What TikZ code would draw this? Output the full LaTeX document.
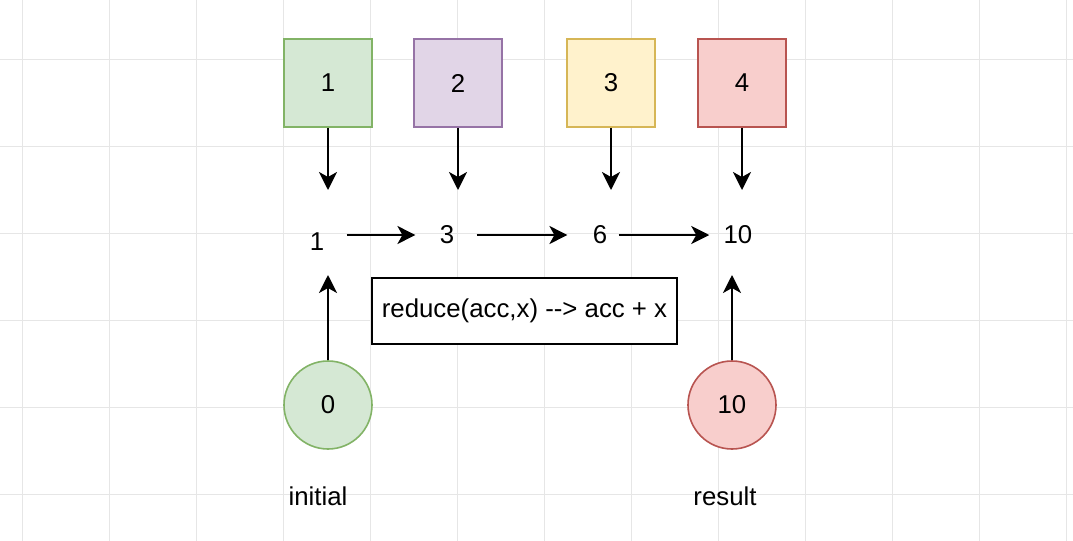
\documentclass[tikz,border=0pt]{standalone}
\usepackage{fontspec}
\setmainfont{Liberation Sans}
\usetikzlibrary{arrows.meta}
\definecolor{gfill}{HTML}{D5E8D4}\definecolor{gdraw}{HTML}{82B366}
\definecolor{pfill}{HTML}{E1D5E7}\definecolor{pdraw}{HTML}{9673A6}
\definecolor{yfill}{HTML}{FFF2CC}\definecolor{ydraw}{HTML}{D6B656}
\definecolor{rfill}{HTML}{F8CECC}\definecolor{rdraw}{HTML}{B85450}
\definecolor{gridc}{HTML}{E6E6E6}
\begin{document}
\begin{tikzpicture}[x=0.5pt,y=-0.5pt,
  every node/.style={font=\fontsize{12.9}{15}\selectfont},
  sq/.style={draw, line width=0.8pt, minimum size=44pt, inner sep=0pt},
  circ/.style={circle, draw, line width=0.8pt, minimum size=44pt, inner sep=0pt},
  val/.style={inner sep=0pt},
  arr/.style={line width=1pt, -{Stealth[length=9pt,width=9pt,inset=2.5pt]}},
  lbl/.style={inner sep=0pt}]
\useasboundingbox (0,0) rectangle (1073,541);
\fill[white] (0,0) rectangle (1073,541);
% grid
\foreach \x in {22,109,...,1073} \draw[gridc, line width=0.5pt] (\x,0) -- (\x,541);
\foreach \y in {59,146,...,541} \draw[gridc, line width=0.5pt] (0,\y) -- (1073,\y);
% squares
\node[sq, fill=gfill, draw=gdraw] (s1) at (328,83) {1};
\node[sq, fill=pfill, draw=pdraw] (s2) at (458,83) {2};
\node[sq, fill=yfill, draw=ydraw] (s3) at (611,83) {3};
\node[sq, fill=rfill, draw=rdraw] (s4) at (742,83) {4};
% values
\node[val] (v1) at (317,242) {1};
\node[val] (v3) at (447,235) {3};
\node[val] (v6) at (600,235) {6};
\node[val] (v10) at (738,235) {10};
% box
\node[draw, line width=1pt, fill=white, minimum width=152.5pt, minimum height=33pt, inner sep=0pt] (fn) at (524.5,311) {reduce(acc,x) -{}-> acc + x};
% circles
\node[circ, fill=gfill, draw=gdraw] (c0) at (328,405) {0};
\node[circ, fill=rfill, draw=rdraw] (c10) at (732,405) {10};
% labels
\node[lbl] (li) at (318,496) {initial};
\node[lbl] (lr) at (725,496) {result};
% down arrows
\draw[arr, shorten >=26pt] (s1) -- (s1 |- v1);
\draw[arr, shorten >=22.5pt] (s2) -- (s2 |- v3);
\draw[arr, shorten >=22.5pt] (s3) -- (s3 |- v6);
\draw[arr, shorten >=22.5pt] (s4) -- (s4 |- v10);
% horizontal arrows
\draw[arr, shorten <=11pt, shorten >=12pt] (v1.east |- v3) -- (v3.west);
\draw[arr, shorten <=11pt, shorten >=12.5pt] (v3.east) -- (v6.west);
\draw[arr, shorten <=5.5pt, shorten >=7pt] (v6.east) -- (v10.west);
% up arrows
\draw[arr, shorten >=16.5pt] (c0) -- (c0 |- v1);
\draw[arr, shorten >=20pt] (c10) -- (c10 |- v10);
\end{tikzpicture}
\end{document}
